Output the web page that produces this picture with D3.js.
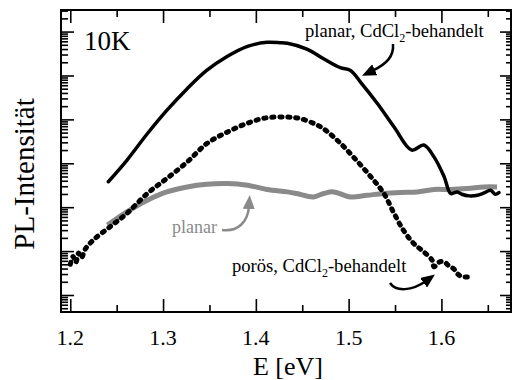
<!DOCTYPE html>
<html>
<head>
<meta charset="utf-8">
<script src="https://cdn.jsdelivr.net/npm/d3@7"></script>
<style>
  html, body { margin: 0; padding: 0; background: #fff; }
  svg { display: block; }
</style>
</head>
<body>
<svg id="chart" width="512" height="380"></svg>
<script>
(() => {
    // planar, CdCl2-behandelt (solid black)
    const energyPlanarCd = [1.241, 1.261, 1.283, 1.304, 1.326, 1.347, 1.369, 1.391, 1.412, 1.426, 1.434, 1.455, 1.473, 1.491, 1.502, 1.513, 1.531, 1.549, 1.568, 1.581, 1.592, 1.603, 1.610, 1.617, 1.622, 1.630, 1.639, 1.646, 1.653, 1.658, 1.662];
    const intensityPlanarCd = [380, 1170, 4700, 16000, 50000, 130000, 270000, 460000, 570000, 560000, 540000, 400000, 240000, 150000, 130000, 70000, 23000, 6700, 2000, 2600, 1400, 490, 205, 223, 197, 181, 187, 211, 243, 197, 216];

    // porös, CdCl2-behandelt (dotted black)
    const energyPoros = [1.200, 1.203, 1.206, 1.209, 1.212, 1.216, 1.225, 1.243, 1.261, 1.283, 1.304, 1.326, 1.347, 1.369, 1.391, 1.412, 1.434, 1.448, 1.470, 1.488, 1.505, 1.524, 1.538, 1.549, 1.559, 1.570, 1.581, 1.590, 1.592, 1.598, 1.603, 1.608, 1.613, 1.617, 1.622, 1.631];
    const intensityPoros = [5.0, 7.5, 5.5, 9.0, 7.0, 11, 18, 36, 72, 205, 450, 1070, 2800, 5100, 8200, 10900, 11300, 10400, 6700, 3300, 1400, 490, 205, 72, 30, 15, 9.6, 6.2, 4.4, 5.7, 5.7, 4.6, 4.0, 3.1, 2.6, 2.6];

    // planar, unbehandelt (grey)
    const energyPlanar = [1.240, 1.261, 1.283, 1.304, 1.326, 1.347, 1.369, 1.391, 1.412, 1.434, 1.444, 1.462, 1.473, 1.484, 1.502, 1.520, 1.538, 1.556, 1.574, 1.592, 1.610, 1.628, 1.646, 1.660];
    const intensityPlanar = [39, 78, 144, 223, 289, 333, 346, 316, 253, 223, 205, 171, 205, 223, 171, 187, 205, 216, 223, 253, 253, 266, 289, 289];

    const xMajorTicks = [1.2, 1.3, 1.4, 1.5, 1.6];
    const xMinorTicks = [1.25, 1.35, 1.45, 1.55, 1.65];
    const xTickLabels = ["1.2", "1.3", "1.4", "1.5", "1.6"];
    const yDecades = [1, 10, 100, 1e3, 1e4, 1e5, 1e6];

    const serif = "'Liberation Serif', 'Times New Roman', 'DejaVu Serif', serif";
    const grey = "#8a8a8a";
    const frame = {left: 61, right: 511, top: 10, bottom: 312};

    const svg = d3.select("#chart").attr("font-family", serif);

    const x = d3.scaleLinear().domain([1.19, 1.675]).range([frame.left, frame.right]);
    const y = d3.scaleLog().domain([0.41, 3.1e6]).range([frame.bottom, frame.top]);

    // minor log ticks 2..9 of every decade inside the domain
    const yMinorTicks = [];
    [0.1].concat(yDecades).forEach((d) => {
      for (let k = 2; k <= 9; k++) {
        const v = d * k;
        if (v > y.domain()[0] && v < y.domain()[1]) yMinorTicks.push(v);
      }
    });

    const toPoints = (es, vs) => es.map((e, i) => ({e: e, v: vs[i]}));

    const line = d3.line()
      .x((d) => x(d.e))
      .y((d) => y(d.v))
      .curve(d3.curveCatmullRom.alpha(0.5));

    // ticks, all pointing inward
    const drawTicks = (axis, tx, ty) => {
      const g = svg.append("g")
        .attr("transform", "translate(" + tx + "," + ty + ")")
        .call(axis);
      g.select(".domain").remove();
      g.selectAll(".tick line").attr("stroke", "#000").attr("stroke-width", 1.6);
      return g;
    };

    drawTicks(d3.axisTop(x).tickValues(xMajorTicks).tickSize(13).tickFormat(""), 0, frame.bottom);
    drawTicks(d3.axisTop(x).tickValues(xMinorTicks).tickSize(7).tickFormat(""), 0, frame.bottom);
    drawTicks(d3.axisBottom(x).tickValues(xMajorTicks).tickSize(13).tickFormat(""), 0, frame.top);
    drawTicks(d3.axisBottom(x).tickValues(xMinorTicks).tickSize(7).tickFormat(""), 0, frame.top);
    drawTicks(d3.axisRight(y).tickValues(yDecades).tickSize(13).tickFormat(""), frame.left, 0);
    drawTicks(d3.axisRight(y).tickValues(yMinorTicks).tickSize(7).tickFormat(""), frame.left, 0);
    drawTicks(d3.axisLeft(y).tickValues(yDecades).tickSize(11).tickFormat(""), frame.right, 0);
    drawTicks(d3.axisLeft(y).tickValues(yMinorTicks).tickSize(5).tickFormat(""), frame.right, 0);

    // x tick labels
    svg.append("g").selectAll("text")
      .data(xMajorTicks)
      .enter().append("text")
        .attr("x", (d) => x(d))
        .attr("y", 345)
        .attr("text-anchor", "middle")
        .attr("font-family", serif)
        .attr("font-size", 22)
        .text((d, i) => xTickLabels[i]);

    // frame
    svg.append("rect")
      .attr("x", frame.left)
      .attr("y", frame.top)
      .attr("width", frame.right - frame.left)
      .attr("height", frame.bottom - frame.top)
      .attr("fill", "none")
      .attr("stroke", "#000")
      .attr("stroke-width", 2);

    // curves
    svg.append("path")
      .datum(toPoints(energyPlanar, intensityPlanar))
      .attr("d", line)
      .attr("fill", "none")
      .attr("stroke", grey)
      .attr("stroke-width", 5)
      .attr("stroke-linejoin", "round");

    svg.append("path")
      .datum(toPoints(energyPoros, intensityPoros))
      .attr("d", line)
      .attr("fill", "none")
      .attr("stroke", "#000")
      .attr("stroke-width", 5)
      .attr("stroke-linecap", "round")
      .attr("stroke-dasharray", "2.2,5.8");

    svg.append("path")
      .datum(toPoints(energyPlanarCd, intensityPlanarCd))
      .attr("d", line)
      .attr("fill", "none")
      .attr("stroke", "#000")
      .attr("stroke-width", 3.5)
      .attr("stroke-linecap", "round")
      .attr("stroke-linejoin", "round");

    // arrow heads
    const defs = svg.append("defs");
    const addMarker = (id, color) => {
      defs.append("marker")
        .attr("id", id)
        .attr("viewBox", "0 0 14 12")
        .attr("refX", 3)
        .attr("refY", 6)
        .attr("markerUnits", "userSpaceOnUse")
        .attr("markerWidth", 14)
        .attr("markerHeight", 12)
        .attr("orient", "auto")
        .append("path")
          .attr("d", "M0,0 L14,6 L0,12 Z")
          .attr("fill", color);
    };
    addMarker("headBlack", "#000");
    addMarker("headGrey", grey);

    svg.append("path")
      .attr("d", "M393,44 C394,56 387,64 372,71")
      .attr("fill", "none").attr("stroke", "#000").attr("stroke-width", 2.5)
      .attr("marker-end", "url(#headBlack)");

    svg.append("path")
      .attr("d", "M390,283 C396,292 412,291 426,281")
      .attr("fill", "none").attr("stroke", "#000").attr("stroke-width", 2.5)
      .attr("marker-end", "url(#headBlack)");

    svg.append("path")
      .attr("d", "M222,230 C238,232 248,222 249,206")
      .attr("fill", "none").attr("stroke", grey).attr("stroke-width", 2.5)
      .attr("marker-end", "url(#headGrey)");

    // annotations
    svg.append("text")
      .attr("x", 84).attr("y", 50)
      .attr("font-family", serif)
      .attr("font-size", 27)
      .text("10K");

    const subLabel = (tx, ty, before, after) => {
      const t = svg.append("text")
        .attr("x", tx).attr("y", ty)
        .attr("font-family", serif)
        .attr("font-size", 18.6);
      t.append("tspan").text(before);
      t.append("tspan").attr("dy", 5).attr("font-size", 12).text("2");
      t.append("tspan").attr("dy", -5).text(after);
    };
    subLabel(305, 37, "planar, CdCl", "-behandelt");
    subLabel(232, 272, "porös, CdCl", "-behandelt");

    svg.append("text")
      .attr("x", 172).attr("y", 233)
      .attr("fill", grey)
      .attr("font-family", serif)
      .attr("font-size", 18)
      .text("planar");

    // axis titles
    svg.append("text")
      .attr("x", 288).attr("y", 375)
      .attr("text-anchor", "middle")
      .attr("font-family", serif)
      .attr("font-size", 26)
      .text("E [eV]");

    svg.append("text")
      .attr("transform", "translate(34,174) rotate(-90)")
      .attr("text-anchor", "middle")
      .attr("font-family", serif)
      .attr("font-size", 29)
      .text("PL-Intensität");
})();
</script>
</body>
</html>
